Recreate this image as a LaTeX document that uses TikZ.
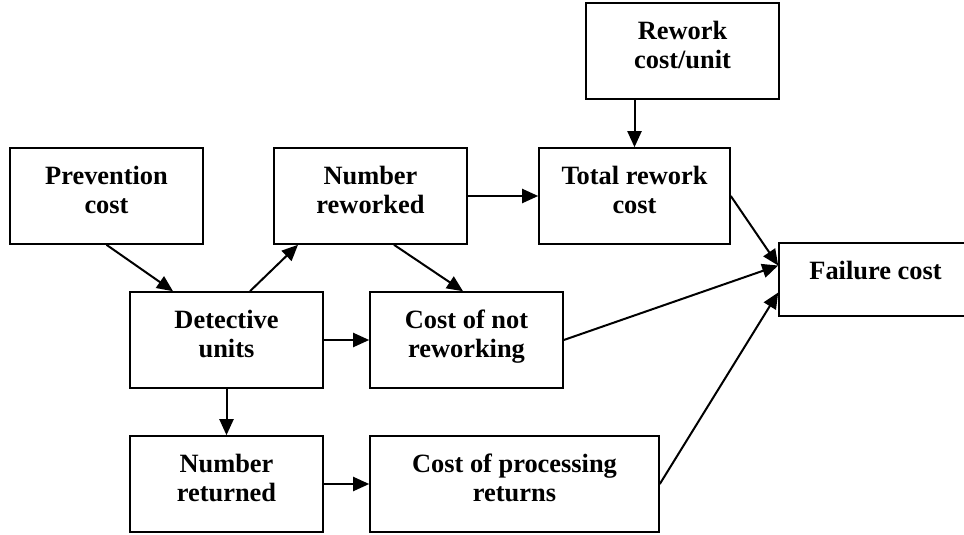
\documentclass[tikz,border=0pt]{standalone}
\usepackage{fontspec}
\setmainfont{Liberation Serif}
\usetikzlibrary{arrows.meta}
\begin{document}
\begin{tikzpicture}[x=1pt,y=-1pt,
  box/.style={draw, line width=1.6pt, rectangle, inner sep=0pt, minimum width=193pt, minimum height=96pt},
  txt/.style={anchor=north, inner sep=0pt, align=center, yshift=-19pt,
    font=\fontsize{26.4pt}{29pt}\selectfont\bfseries},
  arr/.style={line width=2pt, -{Triangle[length=16pt,width=14pt]}}]
\useasboundingbox (0,0) rectangle (964,535);
% boxes
\node[box] (rw) at (682.5,51) {};
\node[box] (prev) at (106.5,196) {};
\node[box] (nrw) at (370.5,196) {};
\node[box, minimum width=191pt] (trc) at (634.5,196) {};
\node[box, minimum height=73pt] (fail) at (875.5,279.5) {};
\node[box] (det) at (226.5,340) {};
\node[box] (cnr) at (466.5,340) {};
\node[box] (nret) at (226.5,484) {};
\node[box, minimum width=289pt] (cpr) at (514.5,484) {};
% texts
\node[txt] (rwT) at (rw.north) {Rework\\cost/unit};
\node[txt] (prevT) at (prev.north) {Prevention\\cost};
\node[txt] (nrwT) at (nrw.north) {Number\\reworked};
\node[txt] (trcT) at (trc.north) {Total rework\\cost};
\node[txt] (failT) at (fail.north) {Failure cost};
\node[txt] (detT) at (det.north) {Detective\\units};
\node[txt] (cnrT) at (cnr.north) {Cost of not\\reworking};
\node[txt] (nretT) at (nret.north) {Number\\returned};
\node[txt] (cprT) at (cpr.north) {Cost of processing\\returns};
% connectors
\coordinate (fa) at ([yshift=14pt]fail.west);
\coordinate (fb) at ([yshift=-13pt]fail.west);
\draw[arr] (rw.south -| trc.north) -- (trc.north);
\draw[arr] (nrw.east) -- (trc.west);
\draw[arr] (trc.east) -- (fa);
\draw[arr] (prev.south) -- ([xshift=-53.5pt]det.north);
\draw[arr] ([xshift=23.5pt]det.north) -- ([xshift=-72.5pt]nrw.south);
\draw[arr] ([xshift=23.5pt]nrw.south) -- ([xshift=-3.5pt]cnr.north);
\draw[arr] (det.east) -- (cnr.west);
\draw[arr] (det.south) -- (nret.north);
\draw[arr] (nret.east) -- (cpr.west);
\draw[arr] (cnr.east) -- (fa);
\draw[arr] (cpr.east) -- (fb);
\end{tikzpicture}
\end{document}
